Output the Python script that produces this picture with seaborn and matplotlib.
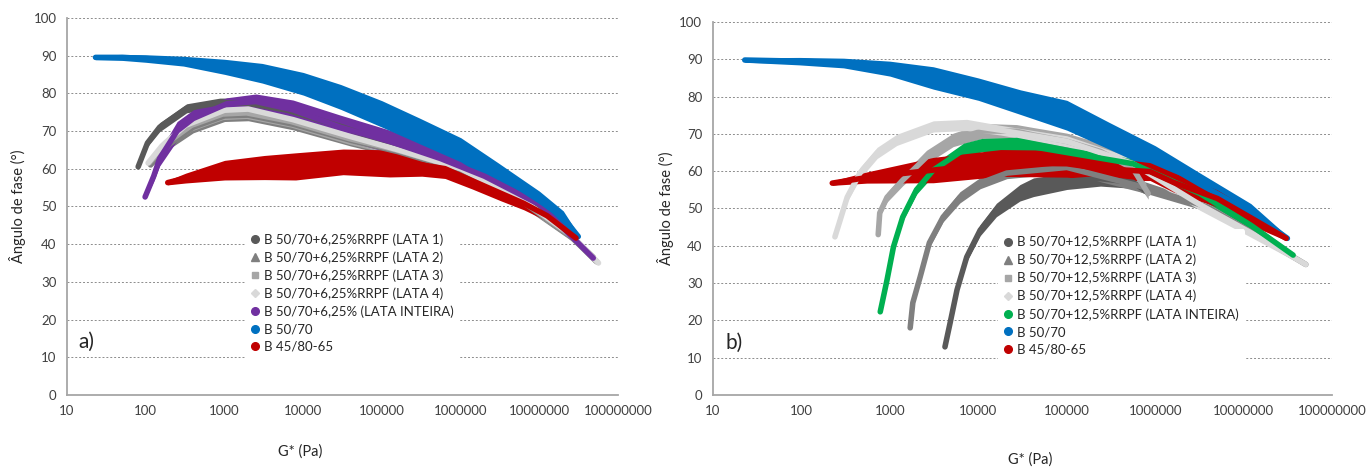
import pandas as pd
import seaborn as sns
from matplotlib import pyplot as plt
from matplotlib.lines import Line2D
from matplotlib.ticker import NullLocator

# ---------------- panel a) : B 50/70 + 6,25% RRPF ----------------
# G* (Pa), phase angle centre (deg), half thickness of the point cloud (deg)
a_lata1_g = [80, 105, 150, 330, 870, 2000, 6300, 32000, 126000, 1e6, 1e7, 4.8e7]
a_lata1_d = [60.5, 66.8, 71, 76, 77.5, 77.3, 75.5, 71, 66.5, 60, 50, 36.5]
a_lata1_w = [0.6, 1, 1.2, 1.2, 1.2, 1.5, 1.8, 2, 2, 1.8, 1.5, 0.6]

a_lata2_g = [115, 200, 400, 1000, 2000, 7400, 40000, 160000, 1e6, 6.3e6, 2.5e7, 5.2e7]
a_lata2_d = [61, 66.5, 71, 74, 74.2, 71.8, 67.5, 64.5, 59.5, 51, 42, 35.5]
a_lata2_w = [0.6, 1.2, 1.5, 1.5, 1.5, 1.5, 1.5, 1.5, 1.5, 1.3, 1, 0.6]

a_lata3_g = [110, 190, 380, 950, 1900, 7000, 38000, 150000, 1e6, 6.3e6, 2.5e7, 5.4e7]
a_lata3_d = [61.5, 67, 71.5, 74.5, 74.8, 72.5, 68, 65, 60, 51.2, 42.2, 35.2]
a_lata3_w = [0.6, 1.2, 1.5, 1.5, 1.5, 1.5, 1.5, 1.5, 1.5, 1.3, 1, 0.6]

a_lata4_g = [107, 160, 320, 1000, 2000, 7400, 40000, 160000, 1e6, 6.3e6, 2.5e7, 5.6e7]
a_lata4_d = [61.5, 66, 71.5, 75.5, 75.8, 73, 68.5, 65, 60, 51.5, 42.5, 35]
a_lata4_w = [0.6, 1.2, 1.5, 1.5, 1.5, 1.5, 1.5, 1.5, 1.5, 1.3, 1, 0.6]

a_inteira_g = [98, 126, 150, 250, 400, 1070, 2500, 7400, 29500, 126000, 550000, 2e6, 1e7, 4.8e7]
a_inteira_d = [52.5, 58, 62.7, 70, 73.3, 77.2, 77.8, 75.6, 71, 67.2, 62.7, 58, 50.5, 36.3]
a_inteira_w = [0.6, 1.3, 2, 2.5, 2.3, 1.6, 2, 2.6, 3.2, 3, 2.4, 2, 1.5, 0.6]

a_b5070_g = [23, 50, 100, 300, 1000, 3000, 10000, 30000, 100000, 300000, 1e6, 3e6, 1e7, 2e7, 3.1e7]
a_b5070_d = [89.5, 89.5, 89.2, 88.5, 87, 85.3, 82.5, 79, 74.5, 70, 65, 58.5, 51.5, 47, 42]
a_b5070_w = [0.6, 0.8, 1, 1.3, 2, 2.6, 3, 3.3, 3.5, 3.4, 3.2, 3, 2.5, 1.8, 0.6]

a_b4580_g = [190, 320, 1000, 3200, 8000, 32000, 125000, 320000, 630000, 1.4e6, 3.2e6, 6.3e6, 1.25e7, 2.9e7]
a_b4580_d = [56.3, 57.5, 59.6, 60.3, 60.6, 61.8, 61.4, 61, 60, 56.8, 53.5, 50.8, 47.5, 41.6]
a_b4580_w = [0.6, 1.3, 2.6, 3.2, 3.6, 3.4, 3.6, 3, 2.6, 2.2, 2, 1.7, 1.4, 0.6]

# ---------------- panel b) : B 50/70 + 12,5% RRPF ----------------
b_lata1_g = [4200, 4800, 5750, 7400, 10500, 16000, 29500, 42000, 100000, 240000, 560000, 800000]
b_lata1_d = [12.9, 19.3, 28.2, 37, 44.2, 49.6, 54.2, 55.7, 57.3, 58, 57, 54.5]
b_lata1_w = [0.6, 0.9, 1, 1.2, 1.5, 1.8, 2.2, 2.5, 2.2, 2, 1.6, 0.8]

b_lata2_g = [1700, 1820, 2200, 2800, 4000, 6200, 10500, 21000, 100000, 800000, 3.9e6, 1.26e7, 5e7]
b_lata2_d = [18, 24.7, 31.6, 40.8, 47.7, 53, 56.8, 59.5, 61, 55.5, 50.4, 43.5, 35]
b_lata2_w = [0.6, 1, 1.2, 1.3, 1.3, 1.5, 1.5, 1.5, 1.5, 1.5, 1.2, 1, 0.6]

b_lata3_g = [740, 770, 930, 1400, 2600, 5200, 11200, 27000, 42000, 100000, 240000, 560000, 830000]
b_lata3_d = [43, 48.8, 53, 57.6, 63.8, 68.4, 70.8, 70.7, 69.7, 68, 65.3, 60.7, 54]
b_lata3_w = [0.6, 1, 1.3, 1.5, 1.8, 1.8, 2, 1.8, 2, 2.2, 2.2, 2.2, 1.5]

b_lata4_g = [240, 275, 330, 460, 720, 1200, 3100, 7400, 17800, 100000, 560000, 3.2e6, 1.2e7, 5e7]
b_lata4_d = [42.4, 46.9, 53, 59.5, 64.9, 68.4, 72, 72.4, 71, 68, 62, 51, 43.5, 35]
b_lata4_w = [0.6, 1, 1.2, 1.5, 1.5, 1.5, 1.5, 1.5, 1.3, 1.5, 1.5, 1.5, 1.2, 0.6]

b_inteira_g = [780, 930, 1100, 1400, 2000, 3100, 6800, 11000, 27000, 100000, 560000, 3.2e6, 1.2e7, 3.6e7]
b_inteira_d = [22.3, 30.8, 39.7, 47.7, 55, 60.3, 65.7, 67, 67.3, 65, 62, 54, 45.5, 37.5]
b_inteira_w = [0.5, 0.8, 0.9, 1, 1.2, 1.5, 1.8, 1.8, 1.8, 1.5, 1.3, 1.3, 1, 0.5]

b_b5070_g = [23, 95, 300, 1000, 3100, 10000, 30000, 100000, 300000, 1e6, 3.2e6, 1.2e7, 3.1e7]
b_b5070_d = [89.8, 89.5, 89, 87.5, 85, 82, 78.5, 75, 69.5, 63.5, 56.5, 49, 42]
b_b5070_w = [0.6, 1, 1.3, 2, 3, 3, 3.3, 4, 3.6, 3.3, 3, 2.3, 0.6]

b_b4580_g = [224, 550, 3100, 17800, 100000, 240000, 870000, 1.6e6, 5e6, 1.2e7, 3e7]
b_b4580_d = [56.8, 58.3, 60.3, 62.2, 62, 60.7, 59.9, 57, 52.7, 47.5, 42]
b_b4580_w = [0.6, 1.5, 3.4, 3.6, 3.6, 3.2, 2.4, 2.6, 2.3, 2, 0.6]

labels_a = ['B 50/70+6,25%RRPF (LATA 1)', 'B 50/70+6,25%RRPF (LATA 2)',
            'B 50/70+6,25%RRPF (LATA 3)', 'B 50/70+6,25%RRPF (LATA 4)',
            'B 50/70+6,25% (LATA INTEIRA)', 'B 50/70', 'B 45/80-65']
labels_b = ['B 50/70+12,5%RRPF (LATA 1)', 'B 50/70+12,5%RRPF (LATA 2)',
            'B 50/70+12,5%RRPF (LATA 3)', 'B 50/70+12,5%RRPF (LATA 4)',
            'B 50/70+12,5%RRPF (LATA INTEIRA)', 'B 50/70', 'B 45/80-65']

gray_colors = ['#595959', '#7f7f7f', '#a6a6a6', '#d9d9d9']
markers = ['o', '^', 's', 'D', 'o', 'o', 'o']
marker_sizes = [5.5, 5.5, 5, 4, 5.5, 5.5, 5.5]
colors_a = gray_colors + ['#7030a0', '#0070c0', '#c00000']
colors_b = gray_colors + ['#00b050', '#0070c0', '#c00000']

series_a = [(a_lata1_g, a_lata1_d, a_lata1_w), (a_lata2_g, a_lata2_d, a_lata2_w),
            (a_lata3_g, a_lata3_d, a_lata3_w), (a_lata4_g, a_lata4_d, a_lata4_w),
            (a_inteira_g, a_inteira_d, a_inteira_w), (a_b5070_g, a_b5070_d, a_b5070_w),
            (a_b4580_g, a_b4580_d, a_b4580_w)]
series_b = [(b_lata1_g, b_lata1_d, b_lata1_w), (b_lata2_g, b_lata2_d, b_lata2_w),
            (b_lata3_g, b_lata3_d, b_lata3_w), (b_lata4_g, b_lata4_d, b_lata4_w),
            (b_inteira_g, b_inteira_d, b_inteira_w), (b_b5070_g, b_b5070_d, b_b5070_w),
            (b_b4580_g, b_b4580_d, b_b4580_w)]

sns.set_style('white')
plt.rcParams['font.family'] = ['Lato', 'DejaVu Sans']

TEXT = '#262626'
AXIS = '#a6a6a6'


def draw_band(ax, g, d, w, color):
    # lower and upper edge of the point cloud -> seaborn min/max band
    df = pd.DataFrame({
        'g': list(g) + list(g),
        'd': [c - s for c, s in zip(d, w)] + [c + s for c, s in zip(d, w)],
    })
    sns.lineplot(data=df, x='g', y='d', ax=ax, color=color, linewidth=4,
                 estimator='mean', errorbar=('pi', 100),
                 err_kws={'alpha': 1, 'linewidth': 0},
                 solid_capstyle='round', solid_joinstyle='round')


def style_axis(ax, series, colors, labels, tag, leg_anchor, xlab_pos, ylab_pos):
    ax.set_xscale('log')
    for (g, d, w), c in zip(series, colors):
        draw_band(ax, g, d, w, c)

    ax.set_xlim(10, 1e8)
    ax.set_ylim(0, 100)
    ax.set_yticks(range(0, 101, 10))
    decades = [10 ** k for k in range(1, 9)]
    ax.set_xticks(decades)
    ax.set_xticklabels([str(v) for v in decades])
    ax.xaxis.set_minor_locator(NullLocator())
    ax.tick_params(axis='both', labelsize=9.5, colors=AXIS, labelcolor='#404040',
                   direction='out', length=4, width=1)
    ax.grid(axis='y', color='#8c8c8c', linestyle=(0, (2, 2)), linewidth=0.7)
    ax.grid(axis='x', visible=False)
    for side in ['top', 'right']:
        ax.spines[side].set_visible(False)
    for side in ['left', 'bottom']:
        ax.spines[side].set_color(AXIS)
        ax.spines[side].set_linewidth(1.3)

    ax.set_xlabel('G* (Pa)', fontsize=10.5, color=TEXT)
    ax.set_ylabel('Ângulo de fase (°)', fontsize=10.5, color=TEXT)
    ax.xaxis.set_label_coords(*xlab_pos)
    ax.yaxis.set_label_coords(*ylab_pos)

    ax.text(0.02, 0.125, tag, transform=ax.transAxes, fontsize=15, color=TEXT,
            ha='left', va='baseline')

    handles = [Line2D([], [], marker=m, markersize=s, color=c, linestyle='none')
               for m, s, c in zip(markers, marker_sizes, colors)]
    leg = ax.legend(handles, labels, loc='upper left', bbox_to_anchor=leg_anchor,
                    frameon=True, facecolor='white', edgecolor='none', framealpha=1,
                    fontsize=9.5, handlelength=0.6, handletextpad=0.35,
                    labelspacing=0.42, borderpad=0.5, borderaxespad=0)
    for t in leg.get_texts():
        t.set_color(TEXT)


fig = plt.figure(figsize=(13.68, 4.68), dpi=100)
ax_a = fig.add_axes([0.049, 0.156, 0.403, 0.806])
ax_b = fig.add_axes([0.521, 0.156, 0.453, 0.797])

style_axis(ax_a, series_a, colors_a, labels_a, 'a)', (0.322, 0.447), (0.423, -0.13), (-0.074, 0.5))
style_axis(ax_b, series_b, colors_b, labels_b, 'b)', (0.46, 0.445), (0.512, -0.153), (-0.062, 0.5))

fig.savefig('out.png', dpi=100)
